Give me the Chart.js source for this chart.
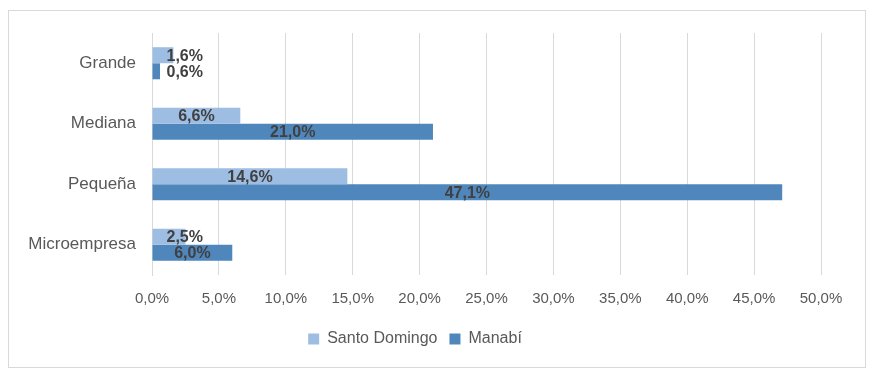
<!DOCTYPE html>
<html>
<head>
<meta charset="utf-8">
<script src="https://cdn.jsdelivr.net/npm/chart.js@4.4.0/dist/chart.umd.min.js"></script>
<style>
  body { margin: 0; background: #fff; }
  #box { position: absolute; left: 8px; top: 10px; width: 856px; height: 356px; border: 1px solid #d9d9d9; }
</style>
</head>
<body>
<div id="box"><canvas id="chart"></canvas></div>
<script>
var categories = ["Grande", "Mediana", "Pequeña", "Microempresa"];
var santoDomingo = [1.6, 6.6, 14.6, 2.5];
var manabi = [0.6, 21.0, 47.1, 6.0];
var tickValues = [0, 5, 10, 15, 20, 25, 30, 35, 40, 45, 50];

var FONT = "'Liberation Sans', Arial, sans-serif";

function pct(v) {
    return v.toFixed(1).replace('.', ',') + '%';
}

// etiquetas de datos estilo Excel (centradas en la barra)
var barLabels = {
    id: 'barLabels',
    afterDatasetsDraw: function (chart) {
        var ctx = chart.ctx;
        ctx.save();
        ctx.font = "bold 16px " + FONT;
        ctx.fillStyle = '#404040';
        ctx.textBaseline = 'middle';
        ctx.textAlign = 'center';
        chart.data.datasets.forEach(function (ds, i) {
            chart.getDatasetMeta(i).data.forEach(function (bar, j) {
                var txt = pct(ds.data[j]);
                var w = ctx.measureText(txt).width;
                var x = Math.max((bar.x + bar.base) / 2, bar.base + 14 + w / 2);
                ctx.fillText(txt, x, bar.y + 1);
            });
        });
        ctx.restore();
    }
};

new Chart(document.getElementById("chart").getContext('2d'), {
    type: 'bar',
    data: {
        labels: categories,
        datasets: [{
            label: "Santo Domingo",
            data: santoDomingo,
            backgroundColor: "#9dbde3",
            categoryPercentage: 0.53,
            barPercentage: 1
        }, {
            label: "Manabí",
            data: manabi,
            backgroundColor: "#4f87bd",
            categoryPercentage: 0.53,
            barPercentage: 1
        }]
    },
    options: {
        indexAxis: 'y',
        responsive: true,
        maintainAspectRatio: false,
        animation: false,
        layout: { padding: { top: 22, right: 44, bottom: 10, left: 0 } },
        scales: {
            x: {
                min: 0,
                max: 50,
                afterBuildTicks: function (s) {
                    s.ticks = tickValues.map(function (v) { return { value: v }; });
                },
                afterFit: function (s) { s.height = 44; },
                grid: { color: '#d9d9d9', drawTicks: false },
                border: { display: false },
                ticks: {
                    padding: 15,
                    color: '#595959',
                    font: { family: FONT, size: 15 },
                    callback: function (v) { return pct(v); }
                }
            },
            y: {
                afterFit: function (s) {
                    s.width = 143;
                    s.paddingTop = 0;
                    s.paddingBottom = 0;
                },
                grid: { display: false, drawTicks: false },
                border: { color: '#d9d9d9' },
                ticks: {
                    padding: 16,
                    color: '#595959',
                    font: { family: FONT, size: 17 }
                }
            }
        },
        plugins: {
            legend: {
                position: 'bottom',
                labels: {
                    boxWidth: 11,
                    boxHeight: 11,
                    padding: 12,
                    color: '#595959',
                    font: { family: FONT, size: 16 }
                }
            },
            tooltip: { enabled: false }
        }
    },
    plugins: [barLabels]
});
</script>
</body>
</html>
